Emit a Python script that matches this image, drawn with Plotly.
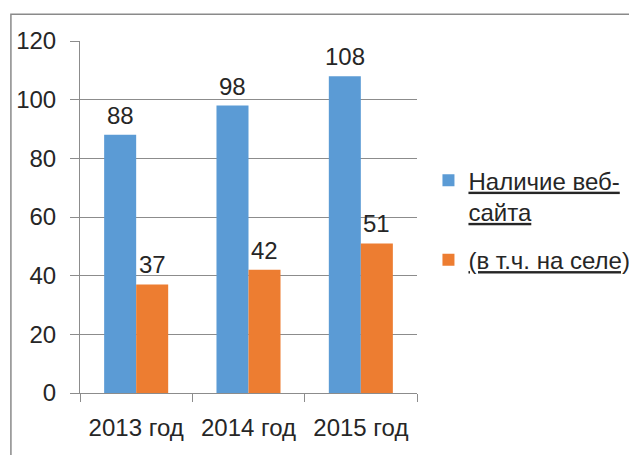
import plotly.graph_objects as go

categories = ["2013 год", "2014 год", "2015 год"]
site_values = [88, 98, 108]
village_values = [37, 42, 51]
series_names = ["Наличие веб-<br>сайта", "(в т.ч. на селе)"]
y_ticks = [0, 20, 40, 60, 80, 100, 120]

BLUE = "#5B9BD5"
ORANGE = "#ED7D31"
GRID = "#8C8C8C"
TEXT = "#262626"
FONT = "Liberation Sans, Arial, sans-serif"
FS = 24


def underline(s):
    return "<br>".join(
        f'<span style="text-decoration:underline">{part}</span>' for part in s.split("<br>")
    )


fig = go.Figure()
fig.add_trace(go.Bar(x=categories, y=site_values, name=underline(series_names[0]),
                     legendgroup="a", marker=dict(color=BLUE, line=dict(width=0))))
fig.add_trace(go.Bar(x=categories, y=village_values, name=underline(series_names[1]),
                     legendgroup="b", marker=dict(color=ORANGE, line=dict(width=0))))

annotations = []
for vals, shift in ((site_values, -16), (village_values, 16)):
    for c, v in zip(categories, vals):
        annotations.append(dict(x=c, y=v, xref="x", yref="y", text=str(v), showarrow=False,
                                xshift=shift, yshift=4, yanchor="bottom",
                                font=dict(size=FS, color=TEXT, family=FONT)))

fig.update_layout(
    width=637, height=455,
    margin=dict(l=72, r=228, t=33, b=70, autoexpand=False),
    paper_bgcolor="white", plot_bgcolor="white",
    barmode="group", bargap=0.43, bargroupgap=0,
    font=dict(family=FONT, size=FS, color=TEXT),
    showlegend=True,
    legend=dict(x=1.034, y=0.667, xanchor="left", yanchor="top", valign="top",
                font=dict(size=FS, color=TEXT, family=FONT),
                itemsizing="constant", tracegroupgap=14, bgcolor="rgba(0,0,0,0)"),
    annotations=annotations,
    shapes=[dict(type="rect", xref="paper", yref="paper",
                 x0=-0.205, x1=1.66, y0=-0.3, y1=1.076,
                 line=dict(color="#8A8A8A", width=1.5), fillcolor="rgba(0,0,0,0)", layer="below")],
)
fig.update_xaxes(
    type="category", showline=True, linecolor=GRID, linewidth=1,
    ticks="outside", tickson="boundaries", ticklen=8, tickcolor=GRID,
    showgrid=False, ticklabelstandoff=13, automargin=False,
    tickfont=dict(size=FS, color=TEXT, family=FONT),
)
fig.update_yaxes(
    range=[0, 120], tickvals=y_ticks, showline=True, linecolor=GRID, linewidth=1,
    ticks="outside", ticklen=9, tickcolor=GRID,
    showgrid=True, gridcolor=GRID, gridwidth=1, zeroline=False,
    ticklabelstandoff=9, automargin=False,
    tickfont=dict(size=FS, color=TEXT, family=FONT),
)

fig.write_html("out.html")
